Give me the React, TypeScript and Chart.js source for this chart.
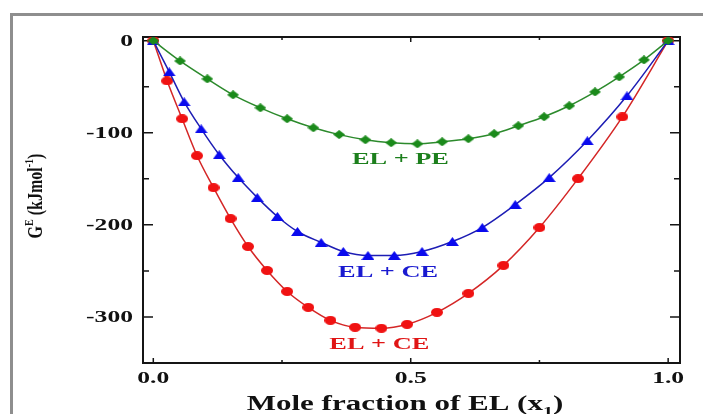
import React, { useEffect, useRef } from "react";
import { Chart, registerables } from "chart.js";

Chart.register(...registerables);

// ---------- data ----------
const PE_X = [0, 0.052, 0.105, 0.155, 0.208, 0.26, 0.311, 0.361, 0.412, 0.462, 0.513, 0.561, 0.612, 0.662, 0.709, 0.759, 0.808, 0.858, 0.905, 0.953, 1.0];
const PE_Y = [0, -22, -41.5, -58.8, -72.9, -84.8, -94.6, -102, -107.6, -110.8, -112, -109.8, -106.5, -101, -92.4, -82.6, -70.7, -55.6, -39.3, -20.9, 0];

const CE1_X = [0, 0.031, 0.06, 0.093, 0.128, 0.165, 0.202, 0.241, 0.28, 0.326, 0.369, 0.417, 0.468, 0.522, 0.581, 0.639, 0.703, 0.769, 0.843, 0.92, 1.0];
const CE1_Y = [0, -33.9, -66.4, -95.7, -123.8, -148.7, -170.4, -190.9, -207.2, -219.1, -228.9, -233.2, -233.2, -228.9, -218.1, -202.9, -178, -148.7, -108.7, -59.9, 0];

const CE2_X = [0, 0.027, 0.056, 0.085, 0.117, 0.15, 0.184, 0.221, 0.26, 0.301, 0.344, 0.392, 0.443, 0.493, 0.551, 0.612, 0.68, 0.75, 0.825, 0.911, 1.0];
const CE2_Y = [0, -43.7, -84.8, -124.9, -159.6, -193.2, -223.5, -249.5, -272.3, -289.6, -303.7, -311.2, -312.3, -308, -295, -274.4, -244, -202.9, -149.8, -82.7, 0];

const X_TICKS = [0, 0.25, 0.5, 0.75, 1.0];
const X_TICK_LABELS = ["0.0", "", "0.5", "", "1.0"];
const Y_TICKS = [0, -50, -100, -150, -200, -250, -300];
const Y_TICK_LABELS = ["0", "", "-100", "", "-200", "", "-300"];

const SERIES_LABELS = ["EL + PE", "EL + CE", "EL + CE"];
const LABEL_X = [0.48, 0.456, 0.439];
const LABEL_Y = [-127, -250.6, -328.6];
const LABEL_COLORS = ["#1c7f1c", "#1a1ad0", "#e01515"];

const X_TITLE = "Mole fraction of EL (x";
const X_TITLE_SUB = "1";
const Y_TITLE_MAIN = "G";
const Y_TITLE_SUP = "E";
const Y_TITLE_MID = " (kJmol";
const Y_TITLE_SUP2 = "-1";
const Y_TITLE_END = ")";

const SERIF = "'Liberation Serif', 'Times New Roman', serif";

function zip(xs: number[], ys: number[]) {
  return xs.map((x, i) => ({ x, y: ys[i] }));
}

function makeMarker(shape: string, w: number, h: number, color: string) {
  const c = document.createElement("canvas");
  c.width = w;
  c.height = h;
  const g = c.getContext("2d")!;
  g.fillStyle = color;
  g.beginPath();
  if (shape === "diamond") {
    g.moveTo(w / 2, 0);
    g.lineTo(w, h / 2);
    g.lineTo(w / 2, h);
    g.lineTo(0, h / 2);
  } else if (shape === "triangle") {
    g.moveTo(w / 2, 0);
    g.lineTo(w, h);
    g.lineTo(0, h);
  } else {
    g.ellipse(w / 2, h / 2, w / 2, h / 2, 0, 0, Math.PI * 2);
  }
  g.closePath();
  g.fill();
  return c;
}

function stretchText(ctx: CanvasRenderingContext2D, text: string, px: number, py: number, font: string, sx: number, align: CanvasTextAlign, color: string) {
  ctx.save();
  ctx.font = font;
  ctx.fillStyle = color;
  ctx.textAlign = align;
  ctx.textBaseline = "alphabetic";
  ctx.translate(px, py);
  ctx.scale(sx, 1);
  ctx.fillText(text, 0, 0);
  ctx.restore();
}

const decor = {
  id: "decor",
  beforeDatasetsDraw(chart: any) {
    const { ctx, chartArea: a, scales } = chart;
    const x = scales.x;
    const y = scales.y;
    ctx.save();
    ctx.strokeStyle = "#151515";
    ctx.lineWidth = 2;
    ctx.strokeRect(a.left, a.top, a.right - a.left, a.bottom - a.top);
    ctx.lineWidth = 1.5;
    ctx.beginPath();
    X_TICKS.forEach((v, i) => {
      const px = x.getPixelForValue(v);
      const len = X_TICK_LABELS[i] ? 5 : 3;
      ctx.moveTo(px, a.bottom);
      ctx.lineTo(px, a.bottom - len);
      ctx.moveTo(px, a.top);
      ctx.lineTo(px, a.top + len);
    });
    Y_TICKS.forEach((v, i) => {
      const py = y.getPixelForValue(v);
      const len = Y_TICK_LABELS[i] ? 10 : 6;
      ctx.moveTo(a.left, py);
      ctx.lineTo(a.left + len, py);
      ctx.moveTo(a.right, py);
      ctx.lineTo(a.right - len, py);
    });
    ctx.stroke();
    ctx.restore();
  },
  afterDraw(chart: any) {
    const { ctx, chartArea: a, scales } = chart;
    const x = scales.x;
    const y = scales.y;
    const tickFont = `bold 16px ${SERIF}`;
    Y_TICKS.forEach((v, i) => {
      if (!Y_TICK_LABELS[i]) return;
      stretchText(ctx, Y_TICK_LABELS[i], a.left - 10, y.getPixelForValue(v) + 5.5, tickFont, 1.6, "right", "#111");
    });
    X_TICKS.forEach((v, i) => {
      if (!X_TICK_LABELS[i]) return;
      stretchText(ctx, X_TICK_LABELS[i], x.getPixelForValue(v), 383, tickFont, 1.6, "center", "#111");
    });
    // series labels
    SERIES_LABELS.forEach((t, i) => {
      stretchText(ctx, t, x.getPixelForValue(LABEL_X[i]), y.getPixelForValue(LABEL_Y[i]) + 6, `bold 17px ${SERIF}`, 1.55, "center", LABEL_COLORS[i]);
    });
    // x title
    ctx.save();
    const big = `bold 20px ${SERIF}`;
    const small = `bold 13px ${SERIF}`;
    ctx.font = big;
    const w1 = ctx.measureText(X_TITLE).width;
    const w3 = ctx.measureText(")").width;
    ctx.font = small;
    const w2 = ctx.measureText(X_TITLE_SUB).width;
    const sx = 1.55;
    const total = (w1 + w2 + w3) * sx;
    const cx = 405 - total / 2;
    const base = 410;
    ctx.fillStyle = "#111";
    ctx.textBaseline = "alphabetic";
    ctx.textAlign = "left";
    ctx.translate(cx, base);
    ctx.scale(sx, 1);
    ctx.font = big;
    ctx.fillText(X_TITLE, 0, 0);
    ctx.font = small;
    ctx.fillText(X_TITLE_SUB, w1, 5);
    ctx.font = big;
    ctx.fillText(")", w1 + w2, 0);
    ctx.restore();

    // y title (rotated)
    ctx.save();
    const yb = `bold 16px ${SERIF}`;
    const ys = `bold 10px ${SERIF}`;
    ctx.font = yb;
    const gw = ctx.measureText(Y_TITLE_MAIN).width;
    const mw = ctx.measureText(Y_TITLE_MID).width;
    const ew = ctx.measureText(Y_TITLE_END).width;
    ctx.font = ys;
    const sw = ctx.measureText(Y_TITLE_SUP).width;
    const s2w = ctx.measureText(Y_TITLE_SUP2).width;
    const len = gw + sw + mw + s2w + ew;
    ctx.translate(42, 196);
    ctx.rotate(-Math.PI / 2);
    ctx.scale(1, 1.35);
    ctx.fillStyle = "#111";
    ctx.textBaseline = "alphabetic";
    ctx.textAlign = "left";
    let p = -len / 2;
    ctx.font = yb;
    ctx.fillText(Y_TITLE_MAIN, p, 0);
    p += gw;
    ctx.font = ys;
    ctx.fillText(Y_TITLE_SUP, p, -7);
    p += sw;
    ctx.font = yb;
    ctx.fillText(Y_TITLE_MID, p, 0);
    p += mw;
    ctx.font = ys;
    ctx.fillText(Y_TITLE_SUP2, p, -7);
    p += s2w;
    ctx.font = yb;
    ctx.fillText(Y_TITLE_END, p, 0);
    ctx.restore();
  },
};

export default function App() {
  const ref = useRef<HTMLCanvasElement | null>(null);

  useEffect(() => {
    if (!ref.current) return;
    const diamond = makeMarker("diamond", 12, 9, "#1b8a1b");
    const tri = makeMarker("triangle", 13, 9, "#0a0aee");
    const circ = makeMarker("circle", 12, 9, "#f01212");
    const chart = new Chart(ref.current, {
      type: "scatter",
      data: {
        datasets: [
          {
            label: SERIES_LABELS[0],
            data: zip(PE_X, PE_Y),
            showLine: true,
            borderColor: "#2c8a2c",
            borderWidth: 1.5,
            backgroundColor: "#1b8a1b",
            pointStyle: diamond as any,
            cubicInterpolationMode: "monotone",
          },
          {
            label: SERIES_LABELS[1],
            data: zip(CE1_X, CE1_Y),
            showLine: true,
            borderColor: "#1d1db4",
            borderWidth: 1.5,
            backgroundColor: "#0a0aee",
            pointStyle: tri as any,
            cubicInterpolationMode: "monotone",
          },
          {
            label: SERIES_LABELS[2],
            data: zip(CE2_X, CE2_Y),
            showLine: true,
            borderColor: "#d42626",
            borderWidth: 1.5,
            backgroundColor: "#f01212",
            pointStyle: circ as any,
            cubicInterpolationMode: "monotone",
          },
        ],
      },
      options: {
        animation: false,
        responsive: true,
        maintainAspectRatio: false,
        layout: { padding: { left: 143, right: 23, top: 37, bottom: 51 } },
        plugins: { legend: { display: false }, tooltip: { enabled: false } },
        scales: {
          x: { type: "linear", min: -0.02, max: 1.023, display: false },
          y: { type: "linear", min: -350, max: 4, display: false },
        },
      },
      plugins: [decor],
    });
    return () => chart.destroy();
  }, []);

  return (
    <div style={{ position: "fixed", left: 0, top: 0, width: 703, height: 414, background: "#fff", overflow: "hidden" }}>
      <div
        style={{
          position: "absolute",
          left: 10,
          top: 13,
          width: 710,
          height: 420,
          borderTop: "3px solid #8e8e8e",
          borderLeft: "3px solid #8e8e8e",
        }}
      />
      <canvas ref={ref} style={{ position: "absolute", left: 0, top: 0, width: 703, height: 414 }} />
    </div>
  );
}
